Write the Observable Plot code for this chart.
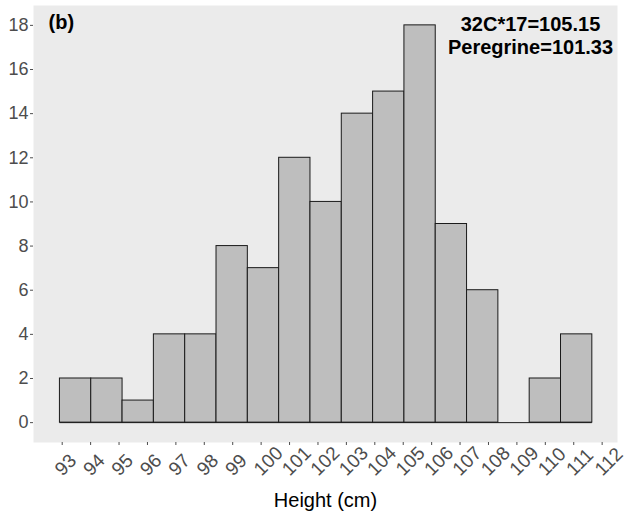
<!DOCTYPE html>
<html><head><meta charset="utf-8">
<script src="https://cdn.jsdelivr.net/npm/d3@7"></script>
<script src="https://cdn.jsdelivr.net/npm/@observablehq/plot@0.6"></script>
<style>body{margin:0;background:#fff}</style>
</head><body><div id="chart"></div>
<script>
const counts = [2, 2, 1, 4, 4, 8, 7, 12, 10, 14, 15, 18, 9, 6, 0, 2, 4];
const binStart = 92.92;
const binWidth = 1.102;
const xTicks = [93, 94, 95, 96, 97, 98, 99, 100, 101, 102, 103, 104, 105, 106, 107, 108, 109, 110, 111, 112];
const yTicks = [0, 2, 4, 6, 8, 10, 12, 14, 16, 18];
const panelLabel = "(b)";
const statLines = ["32C*17=105.15", "Peregrine=101.33"];
const xTitle = "Height (cm)";

const bins = counts.map((c, i) => ({x1: binStart + i * binWidth, x2: binStart + (i + 1) * binWidth, count: c}));
const binEnd = binStart + counts.length * binWidth;

const font = "'Liberation Sans', Arial, sans-serif";
const chart = Plot.plot({
  width: 632,
  height: 516,
  marginLeft: 33,
  marginRight: 15,
  marginTop: 5,
  marginBottom: 74,
  x: {domain: [91.99, 112.54]},
  y: {domain: [-0.9, 18.9]},
  style: {fontFamily: font, background: "white", overflow: "visible"},
  marks: [
    Plot.frame({fill: "#EBEBEB", stroke: "none"}),
    Plot.rect(bins, {x1: "x1", x2: "x2", y1: 0, y2: "count", fill: "#BEBEBE", stroke: "#1a1a1a", strokeWidth: 1}),
    Plot.ruleY([0], {x1: binStart, x2: binEnd, stroke: "#1a1a1a", strokeWidth: 1}),
    Plot.axisY({ticks: yTicks, tickSize: 3, tickPadding: 2, fontSize: 18, color: "#4D4D4D", label: null}),
    Plot.axisX({ticks: xTicks, tickSize: 3, text: null, label: null, color: "#4D4D4D"}),
    Plot.text(xTicks, {x: d => d, text: d => String(d), frameAnchor: "bottom", dy: 30, dx: -4, rotate: -45,
      textAnchor: "start", lineAnchor: "middle", fontSize: 19, fill: "#4D4D4D"}),
    Plot.text([xTitle], {frameAnchor: "bottom", dy: 58, lineAnchor: "middle", fontSize: 20, fill: "black"}),
    Plot.text([panelLabel], {frameAnchor: "top-left", dx: 15, dy: 9, lineAnchor: "top", textAnchor: "start",
      fontSize: 20, fontWeight: "bold", fill: "black"}),
    Plot.text([statLines.join("\n")], {frameAnchor: "top-right", dx: -87, dy: 9, lineAnchor: "top", textAnchor: "middle",
      lineHeight: 1.15, fontSize: 20, fontWeight: "bold", fill: "black"})
  ]
});
document.getElementById("chart").appendChild(chart);
</script>
</body></html>
